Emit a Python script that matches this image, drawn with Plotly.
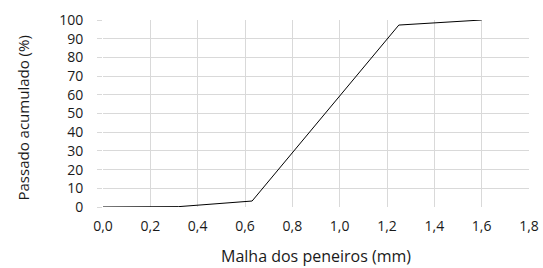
import plotly.graph_objects as go

malha_mm = [0.0, 0.15, 0.32, 0.63, 1.25, 1.6]
passado_pct = [0.0, 0.0, 0.2, 3.2, 97.3, 100.0]

x_ticks = [0.0, 0.2, 0.4, 0.6, 0.8, 1.0, 1.2, 1.4, 1.6, 1.8]
x_labels = ["0,0", "0,2", "0,4", "0,6", "0,8", "1,0", "1,2", "1,4", "1,6", "1,8"]
y_ticks = list(range(0, 101, 10))

x_title = "Malha dos peneiros (mm)"
y_title = "Passado acumulado (%)"

font_family = "Open Sans, Liberation Sans, Arial, sans-serif"
grid = "#d9d9d9"
W, H = 543, 268
L, R, T, B = 103, 14, 20, 61
pw, ph = W - L - R, H - T - B

fig = go.Figure()
fig.add_trace(go.Scatter(x=malha_mm, y=passado_pct, mode="lines",
                         line=dict(color="black", width=1), showlegend=False,
                         hoverinfo="skip"))

fig.update_layout(
    width=W, height=H,
    margin=dict(l=L, r=R, t=T, b=B),
    paper_bgcolor="white", plot_bgcolor="white",
    font=dict(family=font_family, size=14, color="#1a1a1a"),
    xaxis=dict(range=[0, 1.8], tickvals=x_ticks, ticktext=x_labels,
               showgrid=True, gridcolor=grid, gridwidth=1,
               zeroline=False, showline=False, ticks="",
               ticklabelstandoff=9, automargin=False,
               tickfont=dict(size=14)),
    yaxis=dict(range=[0, 100], tickvals=y_ticks,
               showgrid=True, gridcolor=grid, gridwidth=1,
               zeroline=False, showline=False, ticks="outside", ticklen=5,
               tickcolor=grid, ticklabelstandoff=11, automargin=False,
               tickfont=dict(size=14)),
    annotations=[
        dict(text=x_title, xref="paper", yref="paper",
             x=0.5, y=-(255.5 - (T + ph)) / ph, xanchor="center", yanchor="middle",
             showarrow=False, font=dict(size=16)),
        dict(text=y_title, xref="paper", yref="paper", textangle=-90,
             x=-(L - 22) / pw, y=1 - (118.5 - T) / ph, xanchor="center", yanchor="middle",
             showarrow=False, font=dict(size=15)),
    ],
)

fig.write_html("out.html", config={"displayModeBar": False},
               post_script="document.body.style.margin='0';")
